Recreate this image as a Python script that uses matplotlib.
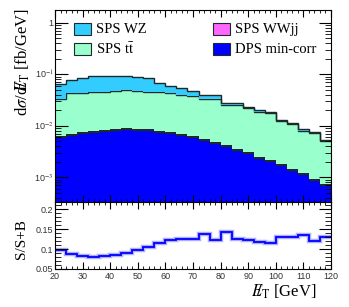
import numpy as np
import matplotlib
matplotlib.use("Agg")
import matplotlib.pyplot as plt
from matplotlib.patches import Rectangle
from matplotlib.ticker import MultipleLocator, LogLocator, NullFormatter

plt.rcParams["mathtext.fontset"] = "stix"

# binning of missing E_T [GeV]
edges = np.arange(20, 121, 4)

# stacked components [fb/GeV], bottom to top
dps_mincorr = [0.0061, 0.0066, 0.0071, 0.0076, 0.0080, 0.0083, 0.0085, 0.0083, 0.0081,
               0.0075, 0.0071, 0.0066, 0.0061, 0.0053, 0.0046, 0.0040, 0.0034, 0.0029,
               0.0024, 0.0021, 0.0017, 0.0014, 0.00115, 0.00088, 0.00071]
sps_wwjj = [0.00030, 0.00032, 0.00034, 0.00036, 0.00038, 0.00040, 0.00041, 0.00040,
            0.00039, 0.00036, 0.00034, 0.00032, 0.00029, 0.00026, 0.00022, 0.00019,
            0.00016, 0.00014, 0.00012, 0.00010, 0.00008, 0.00007, 0.000055, 0.000042,
            0.000034]
sps_ttbar = [0.0266, 0.0357, 0.0356, 0.0377, 0.0376, 0.0390, 0.0401, 0.0385, 0.0372,
             0.0368, 0.0352, 0.0325, 0.0313, 0.0269, 0.0277, 0.0216, 0.0216, 0.0188,
             0.0162, 0.0152, 0.0105, 0.0093, 0.0068, 0.0062, 0.0044]
sps_wz = [0.0310, 0.0344, 0.0410, 0.0463, 0.0480, 0.0463, 0.0440, 0.0398, 0.0373,
          0.0237, 0.0172, 0.0138, 0.0102, 0.0070, 0.0070, 0.0022, 0.0019, 0.0016,
          0.0015, 0.0008, 0.0006, 0.0003, 0.0005, 0.0005, 0.0002]

# S/(S+B) per bin
ratio = [0.0985, 0.0877, 0.0828, 0.0803, 0.0820, 0.0862, 0.0894, 0.0975, 0.1060,
         0.1150, 0.1230, 0.1246, 0.1240, 0.1370, 0.1230, 0.1436, 0.1246, 0.1220,
         0.1180, 0.1150, 0.1310, 0.1290, 0.1360, 0.1207, 0.1305]

components = [
    ("DPS min-corr", dps_mincorr, "#0000ff"),
    ("SPS WWjj", sps_wwjj, "#ff66ff"),
    ("SPS ttbar", sps_ttbar, "#99ffcc"),
    ("SPS WZ", sps_wz, "#33ccff"),
]

W, H = 349, 307
fig = plt.figure(figsize=(W / 100, H / 100), dpi=100)


def fig_box(x0, y0, x1, y1):
    # pixel box (top-left origin) -> figure fraction rect
    return [x0 / W, 1 - y1 / H, (x1 - x0) / W, (y1 - y0) / H]


ax = fig.add_axes(fig_box(55, 10, 331, 202))
ax2 = fig.add_axes(fig_box(55, 202, 331, 269))

base = np.full(len(edges) - 1, 1e-6)
for name, vals, color in components:
    top = base + np.array(vals)
    ax.stairs(top, edges, baseline=base, fill=True, color=color, lw=0)
    ax.stairs(top, edges, baseline=None, color="#1e2a2a", lw=1.0)
    base = top

ax.set_yscale("log")
ax.set_xlim(20, 120)
ax.set_ylim(3.3e-4, 1.77)
ax.set_yticks([1e-3, 1e-2, 1e-1, 1])
ax.set_yticklabels(["10$^{-3}$", "10$^{-2}$", "10$^{-1}$", "1"])
ax.yaxis.set_minor_locator(LogLocator(base=10, subs=np.arange(2, 10)))
ax.yaxis.set_minor_formatter(NullFormatter())
ax.xaxis.set_major_locator(MultipleLocator(10))
ax.xaxis.set_minor_locator(MultipleLocator(2))
ax.set_xticklabels([])
ax.tick_params(which="both", direction="in", top=True, right=True, labelsize=6.5, pad=1)
ax.tick_params(axis="y", which="major", length=9)
ax.tick_params(axis="y", which="minor", length=4.5)
ax.tick_params(axis="x", which="major", length=5)
ax.tick_params(axis="x", which="minor", length=2.5)

# legend, ROOT style
leg = [
    ("SPS WZ", "#33ccff", 74, 23),
    ("SPS t$\\bar{\\rm t}$", "#99ffcc", 74, 43),
    ("SPS WWjj", "#ff66ff", 213, 23),
    ("DPS min-corr", "#0000ff", 213, 43),
]
for label, color, px, py in leg:
    r = fig_box(px, py, px + 17, py + 12)
    fig.patches.append(Rectangle((r[0], r[1]), r[2], r[3], transform=fig.transFigure,
                                 facecolor=color, edgecolor="#1e2a2a", lw=0.8))
    fig.text((px + 22) / W, 1 - (py + 6.5) / H, label, family="Liberation Serif",
             fontsize=10.5, va="center", ha="left")

# ratio panel
ax2.stairs(ratio, edges, baseline=None, color="#8c8cff", lw=3.2, alpha=0.7)
ax2.stairs(ratio, edges, baseline=None, color="#0000ff", lw=1.3)
ax2.set_xlim(20, 120)
ax2.set_ylim(0.05, 0.218)
ax2.xaxis.set_major_locator(MultipleLocator(10))
ax2.xaxis.set_minor_locator(MultipleLocator(2))
ax2.yaxis.set_minor_locator(MultipleLocator(0.01))
ax2.set_yticks([0.05, 0.1, 0.15, 0.2])
ax2.set_yticklabels(["0.05", "0.1", "0.15", "0.2"])
ax2.tick_params(which="both", direction="in", top=True, right=True, labelsize=6.5)
ax2.tick_params(axis="y", which="both", pad=1)
ax2.tick_params(axis="x", which="both", pad=2.5)
ax2.tick_params(axis="y", which="major", length=9)
ax2.tick_params(axis="y", which="minor", length=4.5)
ax2.tick_params(axis="x", which="major", length=5)
ax2.tick_params(axis="x", which="minor", length=2.5)

for a in (ax, ax2):
    for lab in a.get_xticklabels() + a.get_yticklabels():
        lab.set_family("Liberation Sans")
        lab.set_color("#333333")

met = "$/\\!\\!\\!\\!\\!E_{\\rm T}$"
fig.text(23 / W, 1 - 8 / H, "d$\\sigma$/d" + met + " [fb/GeV]",
         family="Liberation Serif", fontsize=12, rotation=90, ha="center", va="top")
fig.text(22 / W, 1 - 239 / H, "S/S+B", family="Liberation Serif", fontsize=11,
         rotation=90, ha="center", va="center")
fig.text(316 / W, 1 - 292 / H, met + " [GeV]", family="Liberation Serif",
         fontsize=12, ha="right", va="center")

fig.savefig("out.png", dpi=100)
